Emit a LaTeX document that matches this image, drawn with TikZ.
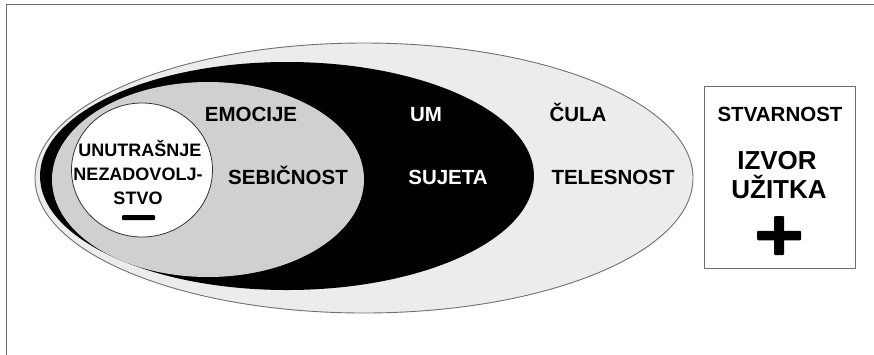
\documentclass[tikz,border=0pt]{standalone}
\usepackage{fontspec}
\setmainfont{Liberation Sans}
\usetikzlibrary{shapes.geometric}
\definecolor{outerfill}{HTML}{ECECEC}
\definecolor{midfill}{HTML}{D0D0D0}
\definecolor{edgegray}{HTML}{707070}
\tikzset{
  lbl/.style={anchor=base, inner sep=0pt, font=\fontsize{20.5}{24}\selectfont\bfseries},
  circlbl/.style={anchor=base, inner sep=0pt, font=\fontsize{18}{22}\selectfont\bfseries},
  biglbl/.style={anchor=base, inner sep=0pt, font=\fontsize{26}{30}\selectfont\bfseries},
  blob/.style={ellipse, inner sep=0pt, outer sep=0pt},
  bar/.style={fill=black, draw=none, rounded corners=1pt}
}
\begin{document}
\begin{tikzpicture}[x=1pt, y=-1pt]
\useasboundingbox (0,0) rectangle (874,354);
% frame
\draw[edgegray, line width=1pt] (6,356) -- (6,4) -- (876,4);
% ellipses
\node[blob, draw=edgegray, line width=0.9pt, fill=outerfill, minimum width=658pt, minimum height=270pt] (outer) at (364,178) {};
\node[blob, fill=black, minimum width=494pt, minimum height=228pt] (mind) at (287,176) {};
\node[blob, fill=midfill, minimum width=312pt, minimum height=195pt] (ego) at (208,179.5) {};
\node[blob, draw=black!80, line width=0.8pt, fill=white, minimum width=141pt, minimum height=134pt] (inner) at (142,170) {};
% labels
\node[lbl] (emocije) at (251,121) {EMOCIJE};
\node[lbl, text=white] (um) at (426,121) {UM};
\node[lbl] (cula) at (578,121) {ČULA};
\node[lbl] (sebicnost) at (288,184.5) {SEBIČNOST};
\node[lbl, text=white] (sujeta) at (448,184.5) {SUJETA};
\node[lbl] (telesnost) at (613,184.5) {TELESNOST};
\node[circlbl] (l1) at (140,156.5) {UNUTRAŠNJE};
\node[circlbl] (l2) at (138,180.5) {NEZADOVOLJ-};
\node[circlbl] (l3) at (138,204) {STVO};
\node[bar, minimum width=33pt, minimum height=5pt, inner sep=0pt] (minus) at (138.5,217.5) {};
% box
\node[draw=edgegray, line width=0.9pt, fill=white, minimum width=151pt, minimum height=182pt, inner sep=0pt] (box) at (779.5,177) {};
\node[lbl] (stvarnost) at (780,121) {STVARNOST};
\node[biglbl] (izvor) at (777,169.5) {IZVOR};
\node[biglbl] (uzitka) at (779,198.5) {UŽITKA};
\node[bar, minimum width=44pt, minimum height=9.5pt, inner sep=0pt] (plush) at (779,235.5) {};
\node[bar, minimum width=10pt, minimum height=39pt, inner sep=0pt] (plusv) at (779,235.5) {};
\end{tikzpicture}
\end{document}
